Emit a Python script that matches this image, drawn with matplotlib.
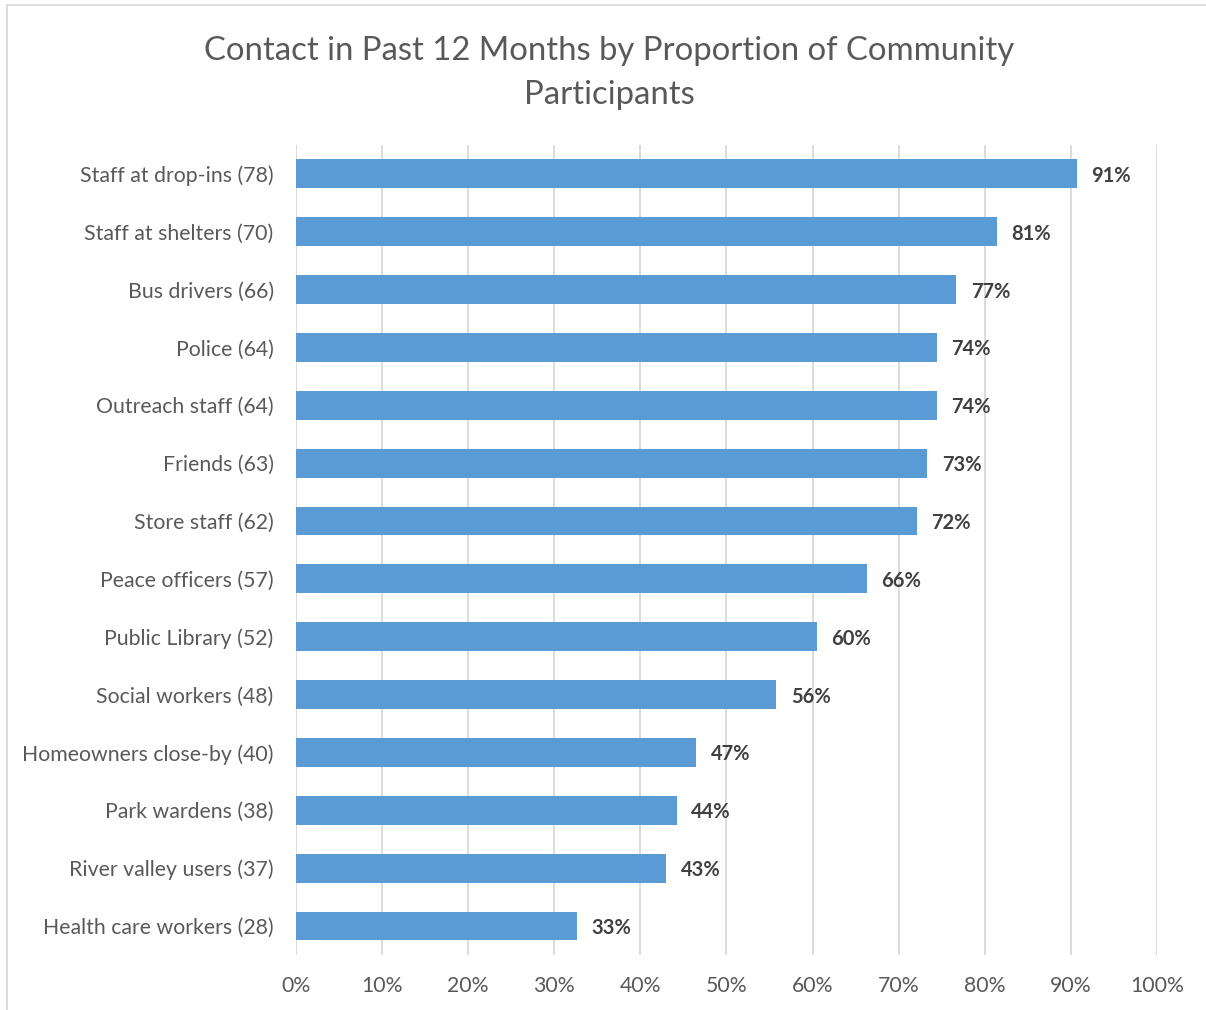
import matplotlib.pyplot as plt
from matplotlib.patches import Rectangle

plt.rcParams['font.family'] = ['Lato', 'DejaVu Sans']

groups = ['Staff at drop-ins (78)', 'Staff at shelters (70)', 'Bus drivers (66)',
          'Police (64)', 'Outreach staff (64)', 'Friends (63)', 'Store staff (62)',
          'Peace officers (57)', 'Public Library (52)', 'Social workers (48)',
          'Homeowners close-by (40)', 'Park wardens (38)', 'River valley users (37)',
          'Health care workers (28)']
# share of the 86 community participants
share = [90.7, 81.4, 76.7, 74.4, 74.4, 73.3, 72.1, 66.3, 60.5, 55.8,
         46.51, 44.2, 43.0, 32.6]

text_col = '#595959'
bar_col = '#5B9BD5'

fig = plt.figure(figsize=(12.06, 10.1), dpi=100)
ax = fig.add_axes([0.2454, 0.0545, 0.714, 0.802])

pos = list(range(len(groups)))[::-1]
ax.barh(pos, share, height=0.5, color=bar_col, zorder=2)
for y, v in zip(pos, share):
    ax.text(v + 1.7, y, f'{v:.0f}%', va='center_baseline', ha='left', fontsize=14.5,
            fontweight='bold', color='#404040')

ax.set_xlim(0, 100)
ax.set_ylim(-0.5, len(groups) - 0.5)
ax.set_xticks(range(0, 101, 10))
ax.set_xticklabels([f'{t}%' for t in range(0, 101, 10)])
ax.set_yticks(pos)
ax.set_yticklabels(groups)
ax.tick_params(axis='both', length=0, labelsize=15.3, colors=text_col)
ax.tick_params(axis='x', pad=15)
ax.tick_params(axis='y', pad=16)
ax.grid(axis='x', color='#D9D9D9', lw=1.3, zorder=0)
for s in ax.spines.values():
    s.set_visible(False)

fig.text(0.505, 0.964, 'Contact in Past 12 Months by Proportion of Community\nParticipants',
         ha='center', va='top', fontsize=23.7, color=text_col, linespacing=1.55)

fig.patches.append(Rectangle((0.006, -0.01), 1.1, 1.005, transform=fig.transFigure,
                             fill=False, edgecolor='#D9D9D9', lw=1.3))

fig.savefig('out.png', dpi=100, facecolor='white')
